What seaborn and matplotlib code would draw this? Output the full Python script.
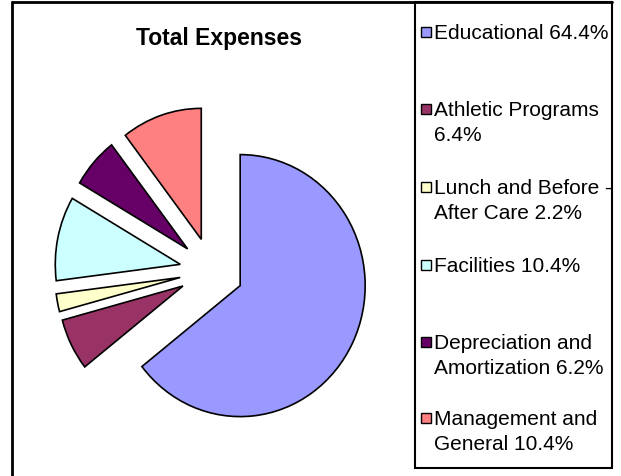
import matplotlib
matplotlib.use("Agg")
import matplotlib.pyplot as plt
import seaborn as sns
from matplotlib.patches import Rectangle
from matplotlib.lines import Line2D

# ---- data ----
categories = ["Educational", "Athletic Programs", "Lunch and Before - After Care",
              "Facilities", "Depreciation and Amortization", "Management and General"]
shares = [64.4, 6.4, 2.2, 10.4, 6.2, 10.4]
legend_labels = ["Educational 64.4%",
                 "Athletic Programs\n6.4%",
                 "Lunch and Before -\nAfter Care 2.2%",
                 "Facilities 10.4%",
                 "Depreciation and\nAmortization 6.2%",
                 "Management and\nGeneral 10.4%"]
colors = ["#9999FF", "#993366", "#FFFFCC", "#CCFFFF", "#660066", "#FF8080"]
title = "Total Expenses"

sns.set_style("white")
plt.rcParams['font.family'] = ['Liberation Sans', 'DejaVu Sans']

W, H = 621, 477
fig = plt.figure(figsize=(W / 100, H / 100), dpi=100)
fig.patch.set_facecolor("white")

def fx(px):
    return px / W

def fy(py):
    return 1 - py / H

ax = fig.add_axes([0, 0, 1, 1])
wedges, _ = ax.pie(shares, colors=colors, startangle=90, counterclock=False,
                   explode=[0.255] * len(shares),
                   wedgeprops=dict(edgecolor="black", linewidth=1.2))
ax.set_aspect("auto")
cx, cy = 211.5, 272.0   # pixel centre (from top)
rx, ry = 125.0, 131.0
ax.set_xlim((0 - cx) / rx, (W - cx) / rx)
ax.set_ylim((cy - H) / ry, (cy - 0) / ry)
ax.axis("off")

# title
fig.text(fx(219), fy(39), title, ha="center", va="center",
         fontsize=16.5, fontweight="bold", color="black")

# borders
lw_outer = 2.0
fig.add_artist(Line2D([fx(12), fx(12)], [fy(3), fy(H + 5)], color="black", lw=lw_outer))
fig.add_artist(Line2D([fx(12), fx(612)], [fy(3), fy(3)], color="black", lw=lw_outer))
# legend box
fig.add_artist(Rectangle((fx(415), fy(469)), fx(612) - fx(415), fy(3) - fy(469),
                         fill=False, edgecolor="black", lw=1.5))

# legend entries
first_line_y = [33, 110, 188, 266, 343, 419]
for lab, col, y in zip(legend_labels, colors, first_line_y):
    fig.add_artist(Rectangle((fx(421), fy(y + 5)), fx(431) - fx(421), fy(y - 5) - fy(y + 5),
                             facecolor=col, edgecolor="black", lw=1.0))
    fig.text(fx(434), fy(y - 9), lab, ha="left", va="top", fontsize=15,
             color="black", linespacing=1.38)

fig.savefig("out.png", dpi=100)
